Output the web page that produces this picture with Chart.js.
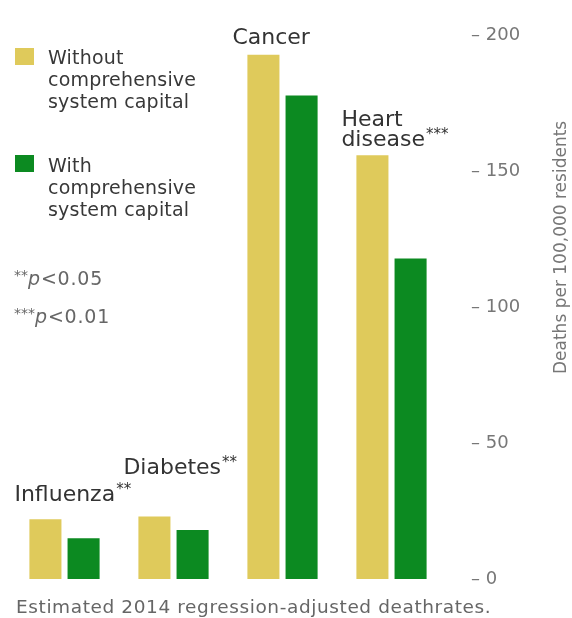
<!DOCTYPE html>
<html>
<head>
<meta charset="utf-8">
<script src="https://cdn.jsdelivr.net/npm/chart.js@4/dist/chart.umd.min.js"></script>
<style>
  html, body { margin: 0; padding: 0; background: #fff; }
  #wrap { position: relative; width: 572px; height: 618px; overflow: hidden; font-family: "DejaVu Sans", sans-serif; }
  #chart { position: absolute; left: 0; top: 0; }
  .key { position: absolute; left: 15px; }
  .key .sw { position: absolute; left: 0; width: 19px; height: 17px; }
  .key .txt { position: absolute; left: 33px; top: 0; font-size: 19px; letter-spacing: 0.2px; line-height: 22px; color: #383838; white-space: nowrap; }
  .note { position: absolute; left: 14px; font-size: 19px; letter-spacing: 0.8px; line-height: 22px; color: #666; white-space: nowrap; }
  .note sup { font-size: 14px; vertical-align: 5px; letter-spacing: 0; }
  .note i { font-style: italic; }
  #caption { position: absolute; left: 16px; top: 596px; font-size: 18.5px; letter-spacing: 0.6px; line-height: 22px; color: #666; white-space: nowrap; }
</style>
</head>
<body>
<div id="wrap">
  <canvas id="chart" width="572" height="618"></canvas>

  <div class="key" style="top:46px">
    <div class="sw" id="sw0" style="top:2px"></div>
    <div class="txt">Without<br>comprehensive<br>system capital</div>
  </div>
  <div class="key" style="top:154px">
    <div class="sw" id="sw1" style="top:1px"></div>
    <div class="txt">With<br>comprehensive<br>system capital</div>
  </div>

  <div class="note" style="top:264px"><sup>**</sup><i>p</i>&lt;0.05</div>
  <div class="note" style="top:302px"><sup>***</sup><i>p</i>&lt;0.01</div>

  <div id="caption">Estimated 2014 regression-adjusted deathrates.</div>
</div>

<script>
// Causes of death, one group of bars each
const categoryLines = [['Influenza'], ['Diabetes'], ['Cancer'], ['Heart', 'disease']];
const significance = ['**', '**', '', '***'];

// Deaths per 100,000 residents, 2014 regression-adjusted estimates
const withoutCapital = [22, 23, 193, 156];
const withCapital = [15, 18, 178, 118];

// Axis ticks
const yTicks = [0, 50, 100, 150, 200];

const colorWithout = '#dfca5b';
const colorWith = '#0c8a21';
document.getElementById('sw0').style.background = colorWithout;
document.getElementById('sw1').style.background = colorWith;

// Lift of each group label above its tallest bar (px)
const labelLift = [24, 48, 17, 15];

const FONT = '"DejaVu Sans", sans-serif';

// Category names with significance stars, drawn above each bar pair
const groupLabels = {
  id: 'groupLabels',
  afterDatasetsDraw(chart) {
    const ctx = chart.ctx;
    const m0 = chart.getDatasetMeta(0), m1 = chart.getDatasetMeta(1);
    ctx.save();
    ctx.textBaseline = 'middle';
    ctx.textAlign = 'left';
    ctx.fillStyle = '#333';
    categoryLines.forEach((lines, i) => {
      const b0 = m0.data[i], b1 = m1.data[i];
      const x = b0.x - b0.width / 2 - 15;
      const top = Math.min(b0.y, b1.y);
      const lastY = top - labelLift[i];
      lines.forEach((line, k) => {
        const y = lastY - (lines.length - 1 - k) * 20;
        ctx.font = '22px ' + FONT;
        ctx.fillText(line, x, y);
        if (k === lines.length - 1 && significance[i]) {
          const w = ctx.measureText(line).width;
          ctx.font = '15px ' + FONT;
          ctx.fillText(significance[i], x + w + 1, y - 5);
        }
      });
    });
    ctx.restore();
  }
};

// Vertical axis title, reading bottom to top
const yTitle = {
  id: 'yTitle',
  afterDraw(chart) {
    const y = chart.scales.y;
    const ctx = chart.ctx;
    ctx.save();
    ctx.translate(y.right - 10, (y.top + y.bottom) / 2 - 60);
    ctx.rotate(-Math.PI / 2);
    ctx.font = '17px ' + FONT;
    ctx.fillStyle = '#777';
    ctx.textAlign = 'center';
    ctx.textBaseline = 'middle';
    ctx.fillText('Deaths per 100,000 residents', 0, 0);
    ctx.restore();
  }
};

new Chart(document.getElementById('chart'), {
  type: 'bar',
  data: {
    labels: categoryLines.map(l => l.join(' ')),
    datasets: [
      { label: 'Without comprehensive system capital', data: withoutCapital, backgroundColor: colorWithout },
      { label: 'With comprehensive system capital', data: withCapital, backgroundColor: colorWith }
    ]
  },
  options: {
    responsive: false,
    animation: false,
    categoryPercentage: 0.70,
    barPercentage: 0.84,
    layout: { padding: { left: 10, right: 0, top: 20, bottom: 39 } },
    plugins: {
      legend: { display: false },
      tooltip: { enabled: false },
      title: { display: false }
    },
    scales: {
      x: { display: false },
      y: {
        position: 'right',
        min: 0,
        max: 200,
        afterBuildTicks(scale) { scale.ticks = yTicks.map(v => ({ value: v })); },
        afterFit(scale) { scale.width = 126; },
        grid: { display: false, drawTicks: false },
        border: { display: false },
        ticks: {
          padding: 25,
          color: '#777',
          font: { family: FONT, size: 18 },
          callback: v => '\u2013 ' + v
        }
      }
    }
  },
  plugins: [groupLabels, yTitle]
});
</script>
</body>
</html>
